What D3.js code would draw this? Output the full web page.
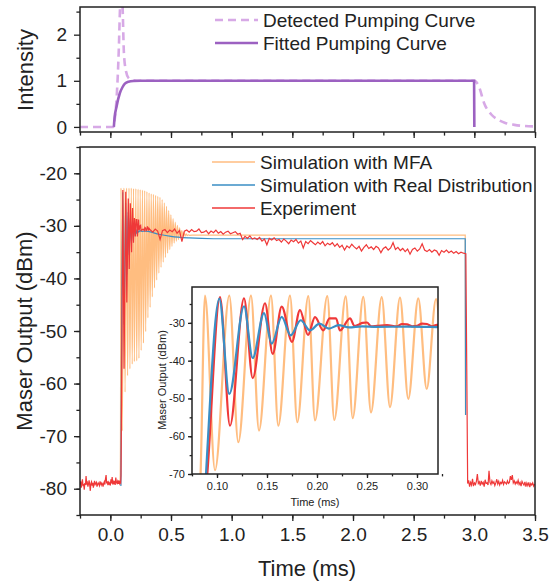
<!DOCTYPE html>
<html>
<head>
<meta charset="utf-8">
<script src="https://cdn.jsdelivr.net/npm/d3@7"></script>
<style>
  body { margin: 0; background: #fff; }
  text { font-family: "Liberation Sans", Arial, sans-serif; fill: #222; }
</style>
</head>
<body>
<svg id="chart" width="557" height="585"></svg>
<script>
// ---- data ----
// pumping curves (time ms, intensity)
const detectedPump = [[-0.25,0],[0.023,0],[0.04,0.25],[0.051,0.6],[0.07,1.7],[0.08,2.6],[0.09,3.2],[0.1,2.7],[0.112,1.6],[0.128,1.22],[0.15,1.06],[0.175,1.02],[0.22,1.0],[3.0,1.0],[3.02,0.96],[3.04,0.86],[3.08,0.52],[3.14,0.27],[3.2,0.15],[3.25,0.09],[3.33,0.045],[3.41,0.02],[3.5,0.01]];
const fittedPump = [[0.029,0],[0.035,0.2],[0.051,0.44],[0.078,0.73],[0.1,0.86],[0.12,0.94],[0.15,0.98],[0.19,0.995],[0.25,1.0],[2.998,1.0],[3.0,0]];

// simulation with MFA: peaks and troughs (time ms, dBm)
const mfaSim = [[0.080,-79],[0.083,-74],[0.088,-22.8],[0.098,-69.0],[0.1123,-22.8],[0.1213,-61.6],[0.134,-22.8],[0.142,-58.5],[0.154,-22.8],[0.1613,-57.2],[0.173,-22.8],[0.1803,-56.3],[0.1913,-22.9],[0.198,-55.8],[0.2103,-22.9],[0.2173,-55.7],[0.2287,-23.0],[0.2357,-55.2],[0.2463,-23.1],[0.254,-53.7],[0.2647,-23.2],[0.273,-52.3],[0.283,-23.3],[0.2913,-50.1],[0.3013,-23.5],[0.3097,-47.5],[0.319,-23.7],[0.328,-45.5],[0.337,-23.9],[0.346,-43.5],[0.355,-24.0],[0.364,-41.8],[0.373,-24.2],[0.382,-40.3],[0.391,-24.4],[0.4,-39.0],[0.409,-24.6],[0.418,-37.9],[0.427,-25.0],[0.436,-36.9],[0.445,-25.6],[0.454,-36.0],[0.463,-26.3],[0.472,-35.2],[0.481,-27.1],[0.49,-34.5],[0.499,-27.9],[0.508,-33.9],[0.517,-28.6],[0.526,-33.3],[0.535,-29.3],[0.544,-32.9],[0.553,-29.9],[0.562,-32.6],[0.571,-30.4],[0.58,-32.3],[0.589,-30.9],[0.598,-32.1],[0.607,-31.2],[0.616,-31.95],[0.625,-31.5],[0.634,-31.85],[0.643,-31.7],[0.652,-31.8],[0.7,-31.75],[2.925,-31.75],[2.927,-66]];

// simulation with real distribution
const realSim = [[0.087,-79.5],[0.089,-70],[0.1023,-23.6],[0.1123,-48.8],[0.127,-25.6],[0.1357,-39.3],[0.147,-27.4],[0.1547,-35.5],[0.1647,-28.4],[0.1737,-33.3],[0.1837,-29.3],[0.193,-32.0],[0.2025,-30.2],[0.212,-31.5],[0.2215,-30.6],[0.232,-31.2],[0.245,-30.9],[0.26,-31.05],[0.29,-31.0],[0.32,-31.1],[0.4,-31.6],[0.5,-32.0],[0.65,-32.3],[0.85,-32.45],[2.925,-32.45],[2.928,-66]];

// experiment: baseline before pumping (sampled every 0.005 ms from -0.25)
const expPreStart = -0.25, expPreStep = 0.005;
const expPre = [-79.2,-78.6,-79.8,-79.0,-78.2,-79.5,-79.1,-80.2,-78.9,-79.3,
  -77.6,-79.0,-78.8,-79.6,-79.1,-78.4,-79.3,-80.4,-79.0,-78.7,
  -79.4,-78.9,-79.8,-79.1,-78.5,-79.2,-79.0,-78.8,-79.6,-79.2,
  -78.9,-79.1,-79.4,-78.6,-79.0,-79.3,-78.9,-79.1,-79.6,-79.0,
  -78.7,-79.2,-78.1,-77.4,-79.0,-78.6,-79.3,-78.8,-79.1,-78.9,
  -79.4,-78.2,-79.0,-77.8,-79.2,-78.7,-79.1,-78.5,-79.3,-77.9,
  -78.8,-79.0,-78.6,-79.1,-78.4,-79.0,-78.7,-78.9];
// experiment: ring-down transient (time ms, dBm)
const expTransient = [[0.088,-77.5],[0.0903,-70],[0.103,-23.2],[0.113,-57.2],[0.127,-23.5],[0.1357,-44.6],[0.148,-24.8],[0.1557,-38.2],[0.1647,-25.7],[0.175,-35.0],[0.183,-26.6],[0.191,-33.2],[0.198,-28.5],[0.2063,-32.0],[0.2125,-28.8],[0.219,-28.8],[0.223,-32.0],[0.233,-28.8],[0.2375,-30.8],[0.242,-30.4],[0.2455,-30.0],[0.25,-29.9],[0.254,-30.9],[0.26,-30.8],[0.27,-30.6],[0.28,-30.9],[0.285,-30.3],[0.29,-30.4],[0.295,-30.9],[0.3,-30.8],[0.305,-30.2],[0.31,-30.3],[0.315,-30.9],[0.32,-30.5]];
// experiment: steady output (sampled every 0.02 ms from 0.33)
const expPlateauStart = 0.33, expPlateauStep = 0.02;
const expPlateau = [-30.8,-31.2,-30.6,-31.0,-32.6,-30.9,-30.7,-31.3,-30.8,-31.1,
  -30.6,-31.4,-30.9,-33.0,-31.0,-30.8,-31.2,-30.7,-31.1,-31.0,
  -30.6,-31.3,-31.2,-30.9,-31.5,-31.0,-31.3,-30.8,-31.4,-31.1,
  -31.6,-31.2,-31.0,-31.5,-31.3,-31.1,-31.6,
  -31.4,-32.6,-32.0,-32.4,-31.9,-32.5,-32.3,
  -32.6,-32.2,-32.9,-32.5,-33.6,-32.4,-32.7,-32.3,-32.8,-32.6,
  -33.1,-32.5,-32.9,-33.4,-32.7,-33.0,-32.6,-33.3,-32.9,-34.2,
  -33.0,-33.4,-32.8,-33.2,-33.6,-33.1,-33.5,-33.0,-33.8,-33.3,
  -33.6,-33.2,
  -33.9,-33.4,-34.1,-33.7,-34.6,-33.8,-34.2,-33.5,-34.0,-34.4,
  -33.9,-34.8,-34.1,-33.6,-34.3,-34.0,-34.5,-33.9,-34.2,-35.1,
  -34.3,-34.0,-34.6,-34.2,-33.2,-34.5,-34.1,-34.7,-34.3,-34.9,
  -34.4,-35.4,-34.5,-34.2,-34.8,-34.4,-33.4,-34.6,-34.9,-34.5,
  -35.0,-34.6,-34.8,-35.6,-34.7,-35.0,-34.6,-35.1,-34.8,-35.2,
  -34.9,-35.3,-35.0,-35.2,-35.3];
// experiment: after pumping stops (sampled every 0.008 ms from 2.945)
const expPostStart = 2.945, expPostStep = 0.008;
const expPost = [-79.0,-78.4,-79.6,-78.8,-79.3,-78.1,-79.5,-78.9,-79.2,-78.6,
  -77.2,-79.0,-78.7,-79.4,-78.5,-79.1,-78.8,-79.6,-78.3,-79.0,
  -78.9,-79.3,-76.6,-78.8,-79.2,-78.5,-79.0,-78.7,-79.4,-78.9,
  -78.2,-79.1,-78.6,-79.3,-78.8,-79.0,-78.4,-79.2,-78.7,-78.9,
  -79.1,-78.5,-79.0,-78.8,-77.6,-78.3,-77.4,-78.9,-78.5,-79.1,
  -78.7,-79.0,-78.4,-79.2,-78.8,-79.5,-78.6,-79.0,-79.3,-78.7,
  -79.6,-78.9,-79.4,-78.8,-79.7,-79.0,-79.3,-78.9,-79.5,-79.1];

const timeTicks = [0, 0.5, 1.0, 1.5, 2.0, 2.5, 3.0, 3.5];
const dbmTicks = [-20, -30, -40, -50, -60, -70, -80];
const intensityTicks = [0, 1, 2];
const insetTimeTicks = [0.10, 0.15, 0.20, 0.25, 0.30];
const insetDbmTicks = [-30, -40, -50, -60, -70];

const pumpLegend = ["Detected Pumping Curve", "Fitted Pumping Curve"];
const outputLegend = ["Simulation with MFA", "Simulation with Real Distribution", "Experiment"];

const colors = {
  detected: "#d7a9e6",
  fitted: "#9c61c1",
  mfa: "#ffbd80",
  real: "#3a8ec5",
  exp: "#ef3838",
  axis: "#222"
};

// experiment series stitched together
const sampled = (start, step, vals) => vals.map((v, i) => [start + i * step, v]);
const experiment = sampled(expPreStart, expPreStep, expPre)
  .concat(expTransient)
  .concat(sampled(expPlateauStart, expPlateauStep, expPlateau))
  .concat(sampled(expPostStart, expPostStep, expPost));

// ---- layout ----
const svg = d3.select("#chart");
const x = d3.scaleLinear().domain([-0.25, 3.5]).range([80, 535]);
const yTop = d3.scaleLinear().domain([-0.11, 2.6]).range([132, 7]);
const yMain = d3.scaleLinear().domain([-85, -15]).range([515, 147]);
const xIn = d3.scaleLinear().domain([0.075, 0.321]).range([192, 438]);
const yIn = d3.scaleLinear().domain([-70, -20.5]).range([474, 287]);

const defs = svg.append("defs");
function clip(id, x0, y0, x1, y1) {
  defs.append("clipPath").attr("id", id)
    .append("rect").attr("x", x0).attr("y", y0).attr("width", x1 - x0).attr("height", y1 - y0);
}
clip("clipTop", 80, 7, 535, 132);
clip("clipMain", 80, 147, 535, 515);
clip("clipInset", 192, 287, 438, 474);

function styleAxis(g) {
  g.select(".domain").remove();
  g.selectAll("line").attr("stroke", colors.axis).attr("stroke-width", 1.3);
}

// draws major + minor ticks for an axis
function ticks(axisFn, scale, majors, minors, at, size, fmt, fontSize, pad) {
  svg.append("g").attr("transform", at)
    .call(axisFn(scale).tickValues(minors).tickSize(size * 0.6).tickFormat(""))
    .call(styleAxis);
  const g = svg.append("g").attr("transform", at)
    .call(axisFn(scale).tickValues(majors).tickSize(size).tickPadding(pad).tickFormat(fmt))
    .call(styleAxis);
  g.selectAll("text").attr("font-size", fontSize).attr("fill", colors.axis)
    .style("font-family", "'Liberation Sans', Arial, sans-serif");
  return g;
}

const range = (a, b, s) => d3.range(a, b + s / 2, s);
const plain = (d) => String(d);

// ---- top panel: pumping ----
ticks(d3.axisBottom, x, timeTicks, range(-0.25, 3.5, 0.25), "translate(0,132)", 6, "", 0, 0);
ticks(d3.axisLeft, yTop, intensityTicks, [0.5, 1.5, 2.5], "translate(80,0)", 6, plain, 19, 7);

const lineTop = d3.line().x((d) => x(d[0])).y((d) => yTop(d[1])).curve(d3.curveMonotoneX);
const topG = svg.append("g").attr("clip-path", "url(#clipTop)");
topG.append("path").datum(detectedPump).attr("d", lineTop)
  .attr("fill", "none").attr("stroke", colors.detected).attr("stroke-width", 2.6)
  .attr("stroke-dasharray", "8,5");
topG.append("path").datum(fittedPump).attr("d", lineTop)
  .attr("fill", "none").attr("stroke", colors.fitted).attr("stroke-width", 2.6);

svg.append("rect").attr("x", 80).attr("y", 7).attr("width", 455).attr("height", 125)
  .attr("fill", "none").attr("stroke", colors.axis).attr("stroke-width", 1.5);

// legend top
pumpLegend.forEach((name, i) => {
  const ly = 20 + i * 23;
  svg.append("line").attr("x1", 215).attr("x2", 258).attr("y1", ly).attr("y2", ly)
    .attr("stroke", i === 0 ? colors.detected : colors.fitted).attr("stroke-width", 2.6)
    .attr("stroke-dasharray", i === 0 ? "8,5" : null);
  svg.append("text").attr("x", 263).attr("y", ly).attr("dy", "0.35em")
    .attr("font-size", 19).text(name);
});

svg.append("text").attr("transform", "translate(33,70) rotate(-90)")
  .attr("text-anchor", "middle").attr("font-size", 22).text("Intensity");

// ---- bottom panel: maser output ----
ticks(d3.axisBottom, x, timeTicks, range(-0.25, 3.5, 0.25), "translate(0,515)", 6, d3.format(".1f"), 19, 7);
ticks(d3.axisLeft, yMain, dbmTicks, range(-85, -15, 5), "translate(80,0)", 6, plain, 19, 7);

const lineMain = d3.line().x((d) => x(d[0])).y((d) => yMain(d[1])).curve(d3.curveMonotoneX);
const mainG = svg.append("g").attr("clip-path", "url(#clipMain)");
mainG.append("path").datum(mfaSim).attr("d", lineMain)
  .attr("fill", "none").attr("stroke", colors.mfa).attr("stroke-width", 1.2);
mainG.append("path").datum(realSim).attr("d", lineMain)
  .attr("fill", "none").attr("stroke", colors.real).attr("stroke-width", 1.2);
mainG.append("path").datum(experiment).attr("d", lineMain.curve(d3.curveLinear))
  .attr("fill", "none").attr("stroke", colors.exp).attr("stroke-width", 1.2);

svg.append("rect").attr("x", 80).attr("y", 147).attr("width", 455).attr("height", 368)
  .attr("fill", "none").attr("stroke", colors.axis).attr("stroke-width", 1.5);

// legend bottom
outputLegend.forEach((name, i) => {
  const ly = 162 + i * 23;
  svg.append("line").attr("x1", 212).attr("x2", 255).attr("y1", ly).attr("y2", ly)
    .attr("stroke", [colors.mfa, colors.real, colors.exp][i]).attr("stroke-width", 1.6);
  svg.append("text").attr("x", 260).attr("y", ly).attr("dy", "0.35em")
    .attr("font-size", 19).text(name);
});

svg.append("text").attr("x", 307).attr("y", 576)
  .attr("text-anchor", "middle").attr("font-size", 22).text("Time (ms)");
svg.append("text").attr("transform", "translate(32,331) rotate(-90)")
  .attr("text-anchor", "middle").attr("font-size", 22).text("Maser Output (dBm)");

// ---- inset: zoom of the ring-down ----
svg.append("rect").attr("x", 192).attr("y", 287).attr("width", 246).attr("height", 187)
  .attr("fill", "#fff");
ticks(d3.axisBottom, xIn, insetTimeTicks, range(0.075, 0.325, 0.025), "translate(0,474)", 4, d3.format(".2f"), 11, 4);
ticks(d3.axisLeft, yIn, insetDbmTicks, range(-70, -25, 5), "translate(192,0)", 4, plain, 11, 3);

const lineIn = d3.line().x((d) => xIn(d[0])).y((d) => yIn(d[1])).curve(d3.curveMonotoneX);
const inG = svg.append("g").attr("clip-path", "url(#clipInset)");
inG.append("path").datum(mfaSim).attr("d", lineIn)
  .attr("fill", "none").attr("stroke", colors.mfa).attr("stroke-width", 2.2);
inG.append("path").datum(experiment).attr("d", lineIn)
  .attr("fill", "none").attr("stroke", colors.exp).attr("stroke-width", 2.2);
inG.append("path").datum(realSim).attr("d", lineIn)
  .attr("fill", "none").attr("stroke", colors.real).attr("stroke-width", 2.2);

svg.append("rect").attr("x", 192).attr("y", 287).attr("width", 246).attr("height", 187)
  .attr("fill", "none").attr("stroke", colors.axis).attr("stroke-width", 1.5);

svg.append("text").attr("x", 315).attr("y", 506)
  .attr("text-anchor", "middle").attr("font-size", 11).text("Time (ms)");
svg.append("text").attr("transform", "translate(166,380) rotate(-90)")
  .attr("text-anchor", "middle").attr("font-size", 11).text("Maser Output (dBm)");
</script>
</body>
</html>
